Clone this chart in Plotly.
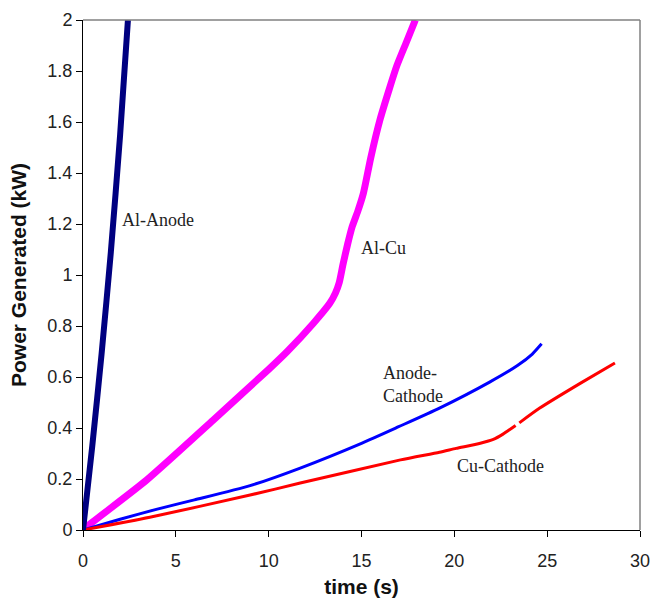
import plotly.graph_objects as go

# Al-Anode
anode_t = [0, 0.5, 1.0, 1.5, 2.0, 2.42]
anode_p = [0, 0.33, 0.69, 1.09, 1.55, 2.00]

# Al-Cu
alcu_t = [0, 0.5, 3.43, 7.0, 8.5, 10.0, 11.0, 12.4, 13.3, 13.6, 13.8, 14.0, 14.25, 14.5, 14.8, 15.1, 15.5, 16.0, 16.5, 16.9, 17.4, 17.9]
alcu_p = [0, 0.03, 0.196, 0.43, 0.53, 0.63, 0.70, 0.81, 0.89, 0.93, 0.97, 1.04, 1.12, 1.19, 1.25, 1.32, 1.46, 1.61, 1.73, 1.82, 1.91, 2.00]

# Anode-Cathode
ac_t = [0, 2.0, 4.0, 6.0, 9.0, 11.7, 15.0, 17.0, 19.2, 21.9, 23.4, 24.2, 24.7]
ac_p = [0, 0.042, 0.082, 0.118, 0.174, 0.243, 0.34, 0.405, 0.478, 0.58, 0.645, 0.69, 0.73]

# Cu-Cathode (small break near 23.4 s)
cc_t = [0, 3.6, 9.0, 11.7, 17.1, 19.2, 20.1, 21.4, 22.1, 22.6, 23.3, None, 23.5, 24.6, 26.8, 28.65]
cc_p = [0, 0.05, 0.137, 0.184, 0.275, 0.305, 0.32, 0.34, 0.355, 0.375, 0.41, None, 0.42, 0.478, 0.576, 0.655]

labels = ["Al-Anode", "Al-Cu", "Anode-<br>Cathode", "Cu-Cathode"]
label_t = [2.0, 14.85, 16.05, 20.05]
label_p = [1.216, 1.106, 0.569, 0.251]

fig = go.Figure()
fig.add_trace(go.Scatter(x=alcu_t, y=alcu_p, mode="lines", line=dict(color="#FF00FF", width=7, shape="spline", smoothing=0.6), showlegend=False))
fig.add_trace(go.Scatter(x=ac_t, y=ac_p, mode="lines", line=dict(color="#0000FF", width=3, shape="spline", smoothing=0.6), showlegend=False))
fig.add_trace(go.Scatter(x=cc_t, y=cc_p, mode="lines", line=dict(color="#FF0000", width=3, shape="spline", smoothing=0.6), showlegend=False, connectgaps=False))
fig.add_trace(go.Scatter(x=anode_t, y=anode_p, mode="lines", line=dict(color="#000080", width=6, shape="spline", smoothing=0.6), showlegend=False))

for txt, tx, ty in zip(labels, label_t, label_p):
    fig.add_annotation(x=tx, y=ty, text=txt, showarrow=False, xanchor="left", yanchor="middle", align="left",
                       font=dict(family="Liberation Serif, Times New Roman, serif", size=18, color="#222"))

axis_font = dict(family="Liberation Sans, Arial, sans-serif", size=18, color="#222")
title_font = dict(family="Liberation Sans, Arial, sans-serif", size=21, color="#111")
fig.update_xaxes(range=[0, 30], tickmode="array", tickvals=[0, 5, 10, 15, 20, 25, 30],
                 ticks="outside", ticklen=6, tickcolor="black", showline=True, linecolor="black", linewidth=1,
                 showgrid=False, zeroline=False, tickfont=axis_font, ticklabelstandoff=8, automargin=False,
                 title=dict(text="<b>time (s)</b>", font=title_font, standoff=10))
fig.update_yaxes(range=[0, 2], tickmode="array", tickvals=[0, 0.2, 0.4, 0.6, 0.8, 1, 1.2, 1.4, 1.6, 1.8, 2],
                 ticktext=["0", "0.2", "0.4", "0.6", "0.8", "1", "1.2", "1.4", "1.6", "1.8", "2"],
                 ticks="outside", ticklen=6, tickcolor="black", showline=True, linecolor="black", linewidth=1,
                 showgrid=False, zeroline=False, tickfont=axis_font, automargin=False,
                 title=dict(text="<b>Power Generated (kW)</b>", font=title_font, standoff=15))

fig.add_shape(type="line", xref="paper", yref="paper", x0=0, x1=1, y0=1, y1=1, line=dict(color="#808080", width=1.5))
fig.add_shape(type="line", xref="paper", yref="paper", x0=1, x1=1, y0=0, y1=1, line=dict(color="#808080", width=1.5))

fig.update_layout(width=653, height=598, margin=dict(l=83, r=13, t=20, b=68),
                  plot_bgcolor="white", paper_bgcolor="white")
fig.write_html("out.html")
